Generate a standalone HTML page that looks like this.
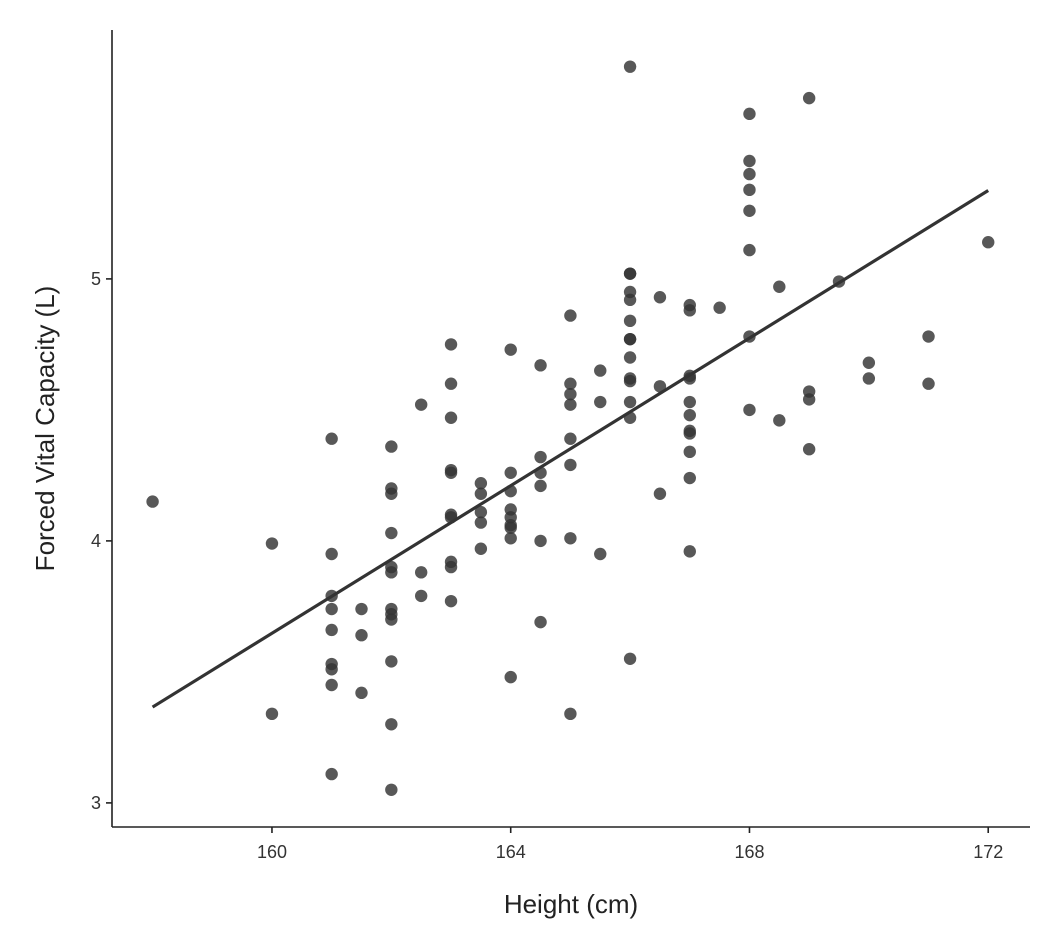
<!DOCTYPE html>
<html>
<head>
<meta charset="utf-8">
<style>
html,body{margin:0;padding:0;background:#fff;}
svg{display:block;font-family:"Liberation Sans",Arial,sans-serif;}
</style>
</head>
<body>
<svg id="chart" width="1060" height="948"></svg>
<script>
const heights = [158,160,160,161,161,161,161,161,161,161,161,161,161.5,161.5,161.5,
162,162,162,162,162,162,162,162,162,162,162,162,162.5,162.5,162.5,
163,163,163,163,163,163,163,163,163,163,163.5,163.5,163.5,163.5,163.5,
164,164,164,164,164,164,164,164,164,164.5,164.5,164.5,164.5,164.5,164.5,
165,165,165,165,165,165,165,165,165.5,165.5,165.5,
166,166,166,166,166,166,166,166,166,166,166,166,166,166,166.5,166.5,166.5,
167,167,167,167,167,167,167,167,167,167,167,167.5,
168,168,168,168,168,168,168,168,168.5,168.5,169,169,169,169,169.5,170,170,171,171,172];
const fvc = [4.15,3.99,3.34,4.39,3.95,3.79,3.74,3.66,3.53,3.51,3.45,3.11,3.74,3.64,3.42,
4.36,4.20,4.18,4.03,3.90,3.88,3.74,3.72,3.70,3.54,3.30,3.05,4.52,3.88,3.79,
4.75,4.60,4.47,4.27,4.26,4.10,4.09,3.92,3.90,3.77,4.22,4.18,4.11,4.07,3.97,
4.73,4.26,4.19,4.12,4.09,4.06,4.05,4.01,3.48,4.67,4.32,4.26,4.21,4.00,3.69,
4.86,4.60,4.56,4.52,4.39,4.29,4.01,3.34,4.65,4.53,3.95,
5.81,5.02,5.02,4.95,4.92,4.84,4.77,4.77,4.70,4.62,4.61,4.53,4.47,3.55,4.93,4.59,4.18,
4.90,4.88,4.63,4.62,4.53,4.48,4.42,4.41,4.34,4.24,3.96,4.89,
5.63,5.45,5.40,5.34,5.26,5.11,4.78,4.50,4.97,4.46,5.69,4.57,4.54,4.35,4.99,4.68,4.62,4.78,4.60,5.14];
const xTicks = [160,164,168,172];
const yTicks = [3,4,5];

const NS="http://www.w3.org/2000/svg";
const svg=document.getElementById('chart');
const X0=112,X1=1030,Y0=30,Y1=827;
const xMin=157.32,xMax=172.70,yMin=2.908,yMax=5.95;
const sx=v=>X0+(v-xMin)/(xMax-xMin)*(X1-X0);
const sy=v=>Y1-(v-yMin)/(yMax-yMin)*(Y1-Y0);
function mk(tag,attrs,parent){const e=document.createElementNS(NS,tag);for(const k in attrs)e.setAttribute(k,attrs[k]);(parent||svg).appendChild(e);return e;}

const pts=mk('g',{});


heights.forEach((h,i)=>{
  const c=mk('circle',{cx:sx(h),cy:sy(fvc[i]),r:6.2,fill:'#333','fill-opacity':0.82},pts);
  
  
});

const n=heights.length;
const mx=heights.reduce((a,b)=>a+b,0)/n, my=fvc.reduce((a,b)=>a+b,0)/n;
let sxy=0,sxx=0;
for(let i=0;i<n;i++){sxy+=(heights[i]-mx)*(fvc[i]-my);sxx+=(heights[i]-mx)**2;}
const slope=sxy/sxx, icpt=my-slope*mx;
const hMin=Math.min(...heights), hMax=Math.max(...heights);
const rl=mk('line',{x1:sx(hMin),y1:sy(icpt+slope*hMin),x2:sx(hMax),y2:sy(icpt+slope*hMax),stroke:'#333','stroke-width':3.2});



const xa=mk('line',{x1:X0,y1:Y1,x2:X1,y2:Y1,stroke:'#222','stroke-width':1.6});


const ya=mk('line',{x1:X0,y1:Y0,x2:X0,y2:Y1,stroke:'#222','stroke-width':1.6});



xTicks.forEach(t=>{
  mk('line',{x1:sx(t),y1:Y1,x2:sx(t),y2:Y1+6,stroke:'#222','stroke-width':1.6});
  const tx=mk('text',{x:sx(t),y:Y1+31,'text-anchor':'middle','font-size':18,fill:'#333'});
  tx.textContent=t;
  
  
});
yTicks.forEach(t=>{
  mk('line',{x1:X0-6,y1:sy(t),x2:X0,y2:sy(t),stroke:'#222','stroke-width':1.6});
  const tx=mk('text',{x:X0-11,y:sy(t)+6,'text-anchor':'end','font-size':18,fill:'#333'});
  tx.textContent=t;
  
  
});

const xt=mk('text',{x:(X0+X1)/2,y:913,'text-anchor':'middle','font-size':26,fill:'#222'});
xt.textContent='Height (cm)';


const yt=mk('text',{x:0,y:0,'text-anchor':'middle','font-size':26,fill:'#222',transform:`translate(54,${(Y0+Y1)/2}) rotate(-90)`});
yt.textContent='Forced Vital Capacity (L)';


</script>
</body>
</html>
